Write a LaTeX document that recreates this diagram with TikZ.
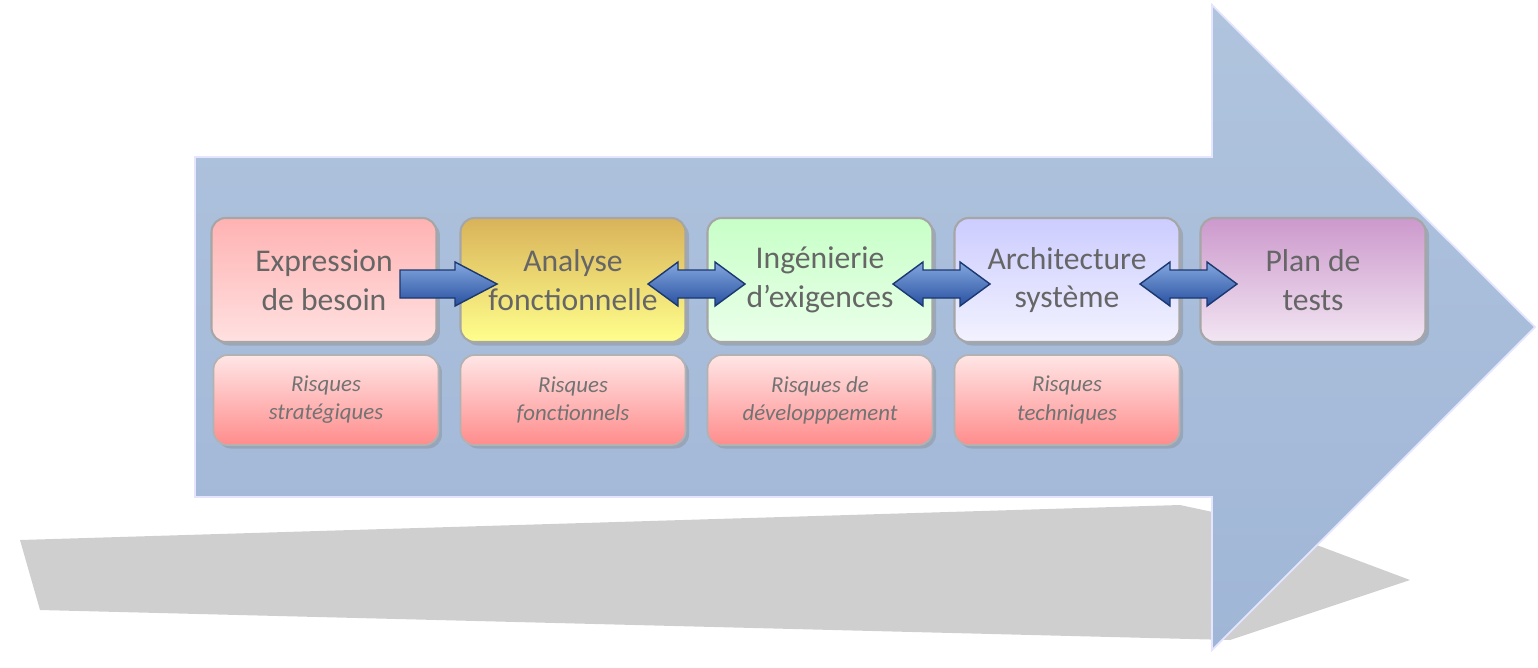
\documentclass[tikz,border=0pt]{standalone}
\usepackage{fontspec}
\setmainfont{Carlito}
\usetikzlibrary{shadows,calc}
\definecolor{body}{RGB}{176,196,222}
\definecolor{bodyd}{RGB}{160,182,214}
\definecolor{barr}{RGB}{80,130,210}
\definecolor{barrd}{RGB}{40,80,160}
\begin{document}
\begin{tikzpicture}[x=0.02cm,y=-0.02cm,
  stage/.style={rounded corners=8pt,draw=gray!70,line width=1.2pt,minimum width=4.5cm,minimum height=2.48cm,align=center,text=black!60,font=\fontsize{18}{22}\selectfont,drop shadow={opacity=0.35,shadow xshift=2pt,shadow yshift=-2pt}},
  risk/.style={rounded corners=8pt,draw=gray!60,line width=1pt,minimum width=4.5cm,minimum height=1.8cm,align=center,text=black!55,font=\itshape\fontsize{13}{16}\selectfont,top color=red!10,bottom color=red!45,drop shadow={opacity=0.35,shadow xshift=2pt,shadow yshift=-2pt}},
  barrow/.style={draw=barrd!70!black,line width=0.8pt,top color=barr!70!white,bottom color=barrd}]
\useasboundingbox (0,0) rectangle (1538,667);
% shadow
\fill[gray!38] (20,540) -- (1180,505) -- (1250,520) -- (1410,580) -- (1230,640) -- (40,610) -- cycle;
% big arrow
\shade[top color=body,bottom color=bodyd,draw=blue!10!white,line width=1pt]
  (195,157) -- (1212,157) -- (1212,5) -- (1535,327) -- (1212,650) -- (1212,497) -- (195,497) -- cycle;
% stages
\node[stage,top color=red!30!white,bottom color=red!12!white] (s1) at (324,280) {Expression\\de besoin};
\node[stage,top color=brown!75!yellow!80,bottom color=yellow!45] (s2) at (573,280) {Analyse\\fonctionnelle};
\node[stage,top color=green!22!white,bottom color=green!8!white] (s3) at (820,280) {Ingénierie\\d’exigences};
\node[stage,top color=blue!20!white,bottom color=blue!5!white] (s4) at (1067,280) {Architecture\\système};
\node[stage,top color=violet!40!white,bottom color=violet!10!white] (s5) at (1313,280) {Plan de\\tests};
% risks
\node[risk] (r1) at (326,400) {Risques\\stratégiques};
\node[risk] (r2) at (573,400) {Risques\\fonctionnels};
\node[risk] (r3) at (820,400) {Risques de\\développpement};
\node[risk] (r4) at (1067,400) {Risques\\techniques};
% block arrows
\coordinate (a1) at (400,284);
\shade[barrow] ($(a1)+(0,-14)$) -- ++(55,0) -- ++(0,-8) -- ++(42,22) -- ++(-42,22) -- ++(0,-8) -- ++(-55,0) -- cycle;
\foreach \n/\x in {a2/648,a3/893,a4/1140}{
  \coordinate (\n) at (\x,284);
  \shade[barrow] ($(\n)$) -- ++(30,-22) -- ++(0,8) -- ++(37,0) -- ++(0,-8) -- ++(30,22) -- ++(-30,22) -- ++(0,-8) -- ++(-37,0) -- ++(0,8) -- cycle;
}
\end{tikzpicture}
\end{document}
